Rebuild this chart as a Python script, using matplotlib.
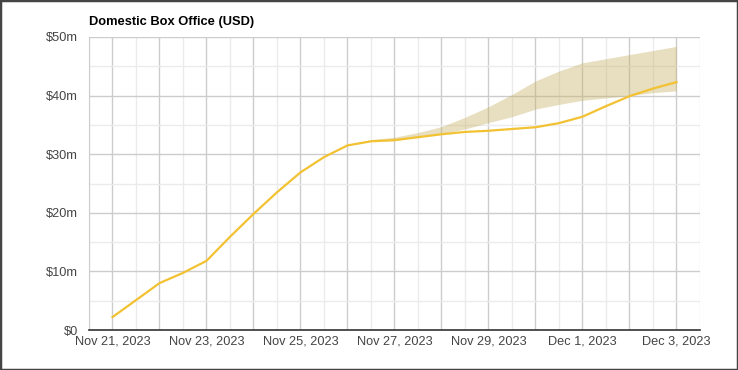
import matplotlib
matplotlib.use("Agg")
import matplotlib.pyplot as plt
import matplotlib.dates as mdates
from matplotlib.ticker import MultipleLocator, FuncFormatter
from matplotlib.patches import Rectangle
import pandas as pd

plt.rcParams['font.family'] = ['Liberation Sans', 'DejaVu Sans']

# domestic gross at half-day steps ($m)
line_dates = pd.date_range("2023-11-21", "2023-12-03", freq="12h")
gross = [2.2, 5.1, 8.0, 9.75, 11.8, 15.9, 19.8, 23.5, 26.9, 29.5,
         31.5, 32.2, 32.4, 32.9, 33.4, 33.8, 34.0, 34.3, 34.6, 35.3,
         36.4, 38.2, 39.9, 41.2, 42.3]

# projection band
band_dates = pd.date_range("2023-11-26", "2023-12-03", freq="12h")
band_upper = [31.5, 32.5, 32.9, 33.7, 34.7, 36.3, 38.1, 40.2, 42.5, 44.2,
              45.6, 46.3, 47.0, 47.7, 48.4]
band_lower = [31.5, 32.2, 32.3, 32.9, 33.5, 34.3, 35.4, 36.4, 37.7, 38.5,
              39.2, 39.6, 40.0, 40.5, 40.8]

fig = plt.figure(figsize=(7.38, 3.70), dpi=100)
ax = fig.add_axes([89/738, 40/370, 611/738, 293/370])

ax.fill_between(band_dates, band_lower, band_upper, color="#c9b26a", alpha=0.42, lw=0, zorder=2)
ax.plot(line_dates, gross, color="#f2c232", lw=1.6, zorder=3)

ax.set_xlim(pd.Timestamp("2023-11-20 12:00"), pd.Timestamp("2023-12-03 12:00"))
ax.set_ylim(0, 50)

ax.xaxis.set_major_locator(mdates.DayLocator())
ax.xaxis.set_minor_locator(mdates.HourLocator(byhour=12))

def date_label(x, pos):
    d = mdates.num2date(x)
    if d.day % 2 == 1:
        return f"{d:%b} {d.day}, {d.year}"
    return ""

ax.xaxis.set_major_formatter(FuncFormatter(date_label))
ax.yaxis.set_major_locator(MultipleLocator(10))
ax.yaxis.set_minor_locator(MultipleLocator(5))
ax.yaxis.set_major_formatter(FuncFormatter(lambda v, p: f"${v:.0f}m" if v else "$0"))

ax.grid(which="major", color="#cccccc", lw=1, zorder=0)
ax.grid(which="minor", color="#ebebeb", lw=1, zorder=0)
ax.set_axisbelow(True)

ax.tick_params(which="both", length=0)
ax.tick_params(axis="x", pad=4, labelsize=9.2, labelcolor="#444444")
ax.tick_params(axis="y", pad=8, labelsize=9.2, labelcolor="#444444")

for s in ["top", "right"]:
    ax.spines[s].set_visible(False)
ax.spines["left"].set_color("#cccccc")
ax.spines["bottom"].set_color("#333333")
ax.spines["bottom"].set_linewidth(1.2)

fig.text(89/738, 1 - 22/370, "Domestic Box Office (USD)", fontsize=9.3, fontweight="bold",
         va="center", ha="left", color="#000000")

fig.patches.append(Rectangle((0, 0), 1, 1, transform=fig.transFigure, fill=False,
                             edgecolor="#444444", lw=2.5))

fig.savefig("out.png", dpi=100)
